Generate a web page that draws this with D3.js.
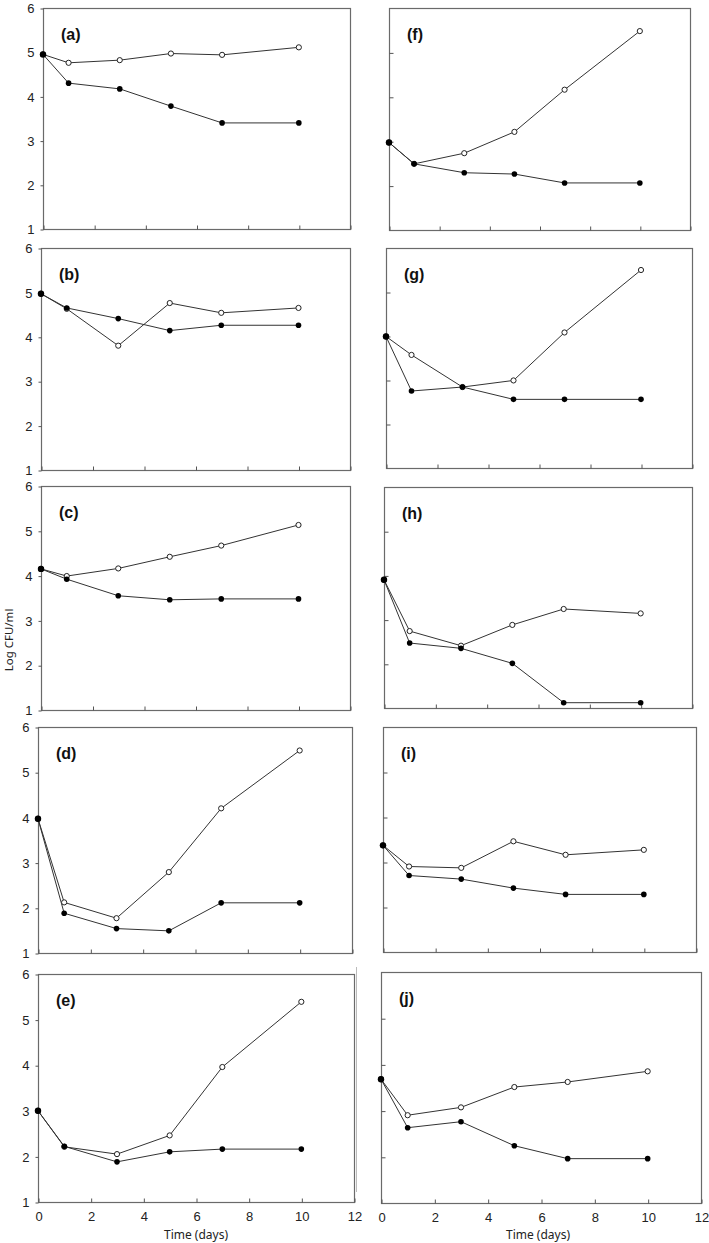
<!DOCTYPE html>
<html>
<head>
<meta charset="utf-8">
<script src="https://cdn.jsdelivr.net/npm/d3@7"></script>
<style>
    body { margin: 0; background: #fff; }
    svg { display: block; }
</style>
</head>
<body>
<div class="chart"></div>
<script>
// sampling days, shared by every panel
var days = [0, 1, 3, 5, 7, 10];
var panelNames = ["(a)", "(b)", "(c)", "(d)", "(e)", "(f)", "(g)", "(h)", "(i)", "(j)"];
var xTicks = [0, 2, 4, 6, 8, 10, 12];
var yTicks = [1, 2, 3, 4, 5, 6];

// open circles, one row per panel a..j
var openSeries = [
    [4.95, 4.76, 4.82, 4.97, 4.94, 5.11],
    [4.97, 4.63, 3.80, 4.76, 4.54, 4.65],
    [4.15, 3.99, 4.16, 4.42, 4.67, 5.13],
    [3.97, 2.12, 1.77, 2.79, 4.20, 5.48],
    [3.00, 2.21, 2.05, 2.46, 3.96, 5.39],
    [2.97, 2.49, 2.73, 3.21, 4.16, 5.48],
    [3.99, 3.57, 2.84, 2.99, 4.08, 5.50],
    [3.90, 2.74, 2.41, 2.88, 3.24, 3.14],
    [3.37, 2.90, 2.87, 3.46, 3.16, 3.27],
    [3.68, 2.90, 3.07, 3.51, 3.62, 3.85]
];

// filled circles, one row per panel a..j
var filledSeries = [
    [4.95, 4.30, 4.17, 3.78, 3.40, 3.40],
    [4.97, 4.65, 4.41, 4.14, 4.26, 4.26],
    [4.15, 3.92, 3.55, 3.46, 3.48, 3.48],
    [3.97, 1.88, 1.54, 1.49, 2.11, 2.11],
    [3.00, 2.22, 1.88, 2.10, 2.16, 2.16],
    [2.97, 2.49, 2.29, 2.26, 2.06, 2.06],
    [3.99, 2.75, 2.84, 2.56, 2.56, 2.56],
    [3.90, 2.47, 2.35, 2.01, 1.12, 1.12],
    [3.37, 2.70, 2.62, 2.42, 2.28, 2.28],
    [3.68, 2.63, 2.76, 2.24, 1.96, 1.96]
];

// frame of each panel: left, top, right, bottom
var boxes = [
    [43, 8, 350, 229],
    [41, 248, 350, 470],
    [41, 486, 350, 710],
    [38, 727, 352, 953],
    [38, 974, 354, 1202],
    [389, 8, 690, 230],
    [386, 248, 692, 468],
    [384, 487, 692, 708],
    [383, 727, 696, 952],
    [381, 972, 701, 1203]
];

var svg = d3
    .select(".chart")
    .append("svg")
    .attr("width", 709)
    .attr("height", 1243);

// faint edge left over between the columns
svg.append("line")
    .attr("x1", 356.5)
    .attr("x2", 356.5)
    .attr("y1", 967)
    .attr("y2", 1192)
    .attr("stroke", "#bbb")
    .attr("stroke-width", 1);

panelNames.forEach((name, i) => {
    var b = boxes[i];
    var leftCol = i < 5;
    var bottomRow = i === 4 || i === 9;

    var x = d3.scaleLinear().domain([0, 12]).range([b[0], b[2]]);
    var y = d3.scaleLinear().domain([1, 6]).range([b[3], b[1]]);

    var g = svg.append("g");

    g.append("rect")
        .attr("x", b[0] + 0.5)
        .attr("y", b[1] + 0.5)
        .attr("width", b[2] - b[0])
        .attr("height", b[3] - b[1])
        .attr("fill", "none")
        .attr("stroke", "#6a6a6a")
        .attr("stroke-width", 1.2);

    // x axis, ticks point into the plot
    var xAxis = d3
        .axisBottom(x)
        .tickValues(xTicks)
        .tickSize(-4)
        .tickPadding(9)
        .tickFormat(bottomRow ? d3.format("d") : "");
    var gx = g.append("g")
        .attr("transform", `translate(0.5,${b[3] + 0.5})`)
        .call(xAxis);
    gx.select(".domain").remove();
    gx.selectAll("line").attr("stroke", "#555");
    gx.selectAll("text")
        .attr("fill", "#222")
        .style("font-family", "Liberation Sans, Arial, sans-serif")
        .style("font-size", "13px");

    // y axis
    var yAxis;
    if (leftCol) {
        yAxis = d3.axisLeft(y).tickValues(yTicks).tickSize(3).tickPadding(6).tickFormat(d3.format("d"));
    } else {
        yAxis = d3.axisLeft(y).tickValues([2, 3, 4, 5]).tickSize(-4).tickFormat("");
    }
    var gy = g.append("g")
        .attr("transform", `translate(${b[0] + 0.5},0.5)`)
        .call(yAxis);
    gy.select(".domain").remove();
    gy.selectAll("line").attr("stroke", "#555");
    gy.selectAll("text")
        .attr("fill", "#222")
        .style("font-family", "Liberation Sans, Arial, sans-serif")
        .style("font-size", "13px");

    g.append("text")
        .attr("x", b[0] + 18)
        .attr("y", b[1] + 32)
        .style("font-family", "Liberation Sans, Arial, sans-serif")
        .style("font-size", "16px")
        .style("font-weight", "bold")
        .attr("fill", "#111")
        .text(name);

    var line = d3
        .line()
        .x((d, k) => x(days[k]))
        .y((d) => y(d));

    [openSeries[i], filledSeries[i]].forEach((vals) => {
        g.append("path")
            .attr("d", line(vals))
            .attr("fill", "none")
            .attr("stroke", "#333")
            .attr("stroke-width", 1);
    });

    g.selectAll(".open")
        .data(openSeries[i])
        .enter()
        .append("circle")
        .attr("class", "open")
        .attr("cx", (d, k) => x(days[k]))
        .attr("cy", (d) => y(d))
        .attr("r", 2.6)
        .attr("fill", "#fff")
        .attr("stroke", "#222")
        .attr("stroke-width", 1);

    g.selectAll(".filled")
        .data(filledSeries[i])
        .enter()
        .append("circle")
        .attr("class", "filled")
        .attr("cx", (d, k) => x(days[k]))
        .attr("cy", (d) => y(d))
        .attr("r", (d, k) => (k === 0 ? 3.2 : 2.8))
        .attr("fill", "#000");

    if (bottomRow) {
        g.append("text")
            .attr("x", (b[0] + b[2]) / 2 + (leftCol ? 0 : -3))
            .attr("y", 1239)
            .attr("text-anchor", "middle")
            .style("font-family", "Noto Sans, Open Sans, sans-serif")
            .style("font-size", "12px")
            .attr("fill", "#222")
            .text("Time (days)");
    }
});

svg.append("text")
    .attr("transform", "translate(13,640) rotate(-90)")
    .attr("text-anchor", "middle")
    .style("font-family", "Noto Sans, Open Sans, sans-serif")
    .style("font-size", "11.5px")
    .attr("fill", "#222")
    .text("Log CFU/ml");
</script>
</body>
</html>
